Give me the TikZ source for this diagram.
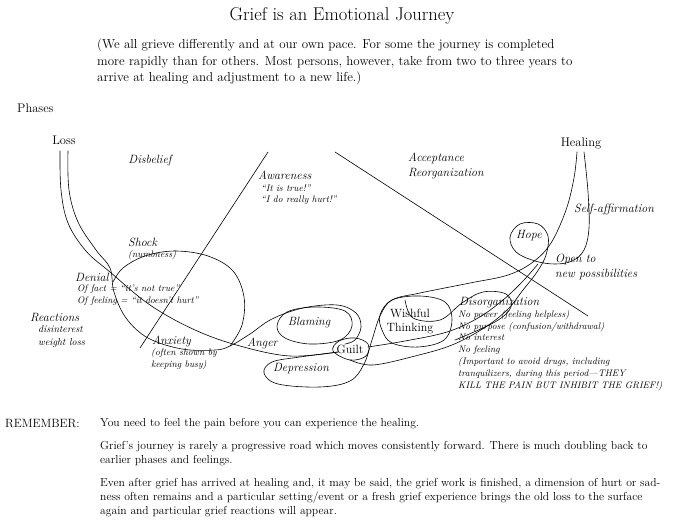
\documentclass[tikz,border=0pt]{standalone}
\usepackage{fontspec}
\begin{document}
\begin{tikzpicture}[x=1pt, y=-1pt,
    lbl/.style={font=\fontsize{12}{14}\selectfont\itshape, inner sep=0pt},
    note/.style={font=\fontsize{9.5}{11.8}\selectfont\itshape, inner sep=0pt, align=left},
    body/.style={font=\fontsize{11.6}{15}\selectfont, inner sep=0pt, align=left},
    spaced/.style={font=\fontsize{12.5}{14}\selectfont, inner sep=0pt},
    road/.style={line width=0.6pt, line join=round, line cap=round}]
  \useasboundingbox (0,0) rectangle (676,521);

  \node[font=\fontsize{18.5}{20}\selectfont] (title) at (342,16) {Grief is an Emotional Journey};
  \node[body, anchor=north west, font=\fontsize{13}{16.5}\selectfont] (intro) at (97,39)
    {(We all grieve differently and at our own pace. For some the journey is completed\\
     more rapidly than for others. Most persons, however, take from two to three years to\\
     arrive at healing and adjustment to a new life.)};
  \node[spaced, anchor=west] (phases) at (17,108) {\addfontfeature{LetterSpace=8}Phases};
  \node[spaced] (loss) at (64,140) {\addfontfeature{LetterSpace=8}Loss};
  \node[spaced] (healing) at (581,143) {\addfontfeature{LetterSpace=10}Healing};

  \node[lbl] (disbelief) at (150,161) {Disbelief};
  \node[lbl, anchor=west] (awareness) at (258,175) {Awareness};
  \node[note, anchor=north west] (aware) at (261,184) {``It is true!''\\``I do really hurt!''};
  \node[lbl, anchor=north west, align=left, font=\fontsize{12}{15}\selectfont\itshape] (accept) at (408,153) {Acceptance\\Reorganization};
  \node[lbl, anchor=west] (selfaff) at (574,209) {Self-affirmation};
  \node[lbl] (hope) at (529,236) {Hope};
  \node[lbl, anchor=north west, align=left, font=\fontsize{12}{14.5}\selectfont\itshape] (open) at (555,254) {Open to\\new possibilities};
  \node[lbl, anchor=west] (shock) at (128,242) {Shock};
  \node[note, anchor=west] (numb) at (128,255) {(numbness)};
  \node[lbl, anchor=west] (denial) at (75,277) {Denial};
  \node[note, anchor=north west] (denialnote) at (77,285) {Of fact = ``it's not true''\\Of feeling = ``it doesn't hurt''};
  \node[lbl, anchor=west] (reactions) at (30,318) {Reactions};
  \node[note, anchor=north west, font=\fontsize{10}{13}\selectfont\itshape] (react) at (38,325) {disinterest\\weight loss};
  \node[lbl, anchor=west] (anxiety) at (152,341) {Anxiety};
  \node[note, anchor=north west] (anx) at (151,348) {(often shown by\\keeping busy)};
  \node[lbl, anchor=west] (anger) at (247,343) {Anger};
  \node[lbl] (blaming) at (309,323) {Blaming};
  \node[font=\fontsize{12}{14}\selectfont] (guilt) at (350,349) {Guilt};
  \node[lbl] (depression) at (301,369) {Depression};
  \node[font=\fontsize{12}{14}\selectfont, align=center, inner sep=0pt] (wishful) at (410,322) {Wishful\\Thinking};
  \node[lbl, anchor=west] (disorg) at (459,303) {Disorganization};
  \node[note, anchor=north west] (disorglist) at (458,310)
    {No power (feeling helpless)\\No purpose (confusion/withdrawal)\\No interest\\No feeling\\
     (Important to avoid drugs, including\\tranquilizers, during this period---THEY\\
     KILL THE PAIN BUT INHIBIT THE GRIEF!)};

  \node[body, anchor=west, font=\fontsize{12}{15}\selectfont] (remember) at (5,424) {\addfontfeature{LetterSpace=15}REMEMBER:};
  \node[body, anchor=west] (pain) at (100,424) {You need to feel the pain before you can experience the healing.};
  \node[body, anchor=north west, font=\fontsize{11.6}{14.5}\selectfont] (journey) at (100,441)
    {Grief's journey is rarely a progressive road which moves consistently forward. There is much doubling back to\\
     earlier phases and feelings.};
  \node[body, anchor=north west, font=\fontsize{11.6}{14}\selectfont] (after) at (100,478)
    {Even after grief has arrived at healing and, it may be said, the grief work is finished, a dimension of hurt or sad-\\
     ness often remains and a particular setting/event or a fresh grief experience brings the old loss to the surface\\
     again and particular grief reactions will appear.};

  \coordinate (divA1) at (268,152);
  \coordinate (divA2) at (140,348);
  \coordinate (divB1) at (335,152);
  \coordinate (divB2) at (588,316);
  \draw[road] (divA1) -- (divA2);
  \draw[road] (divB1) -- (divB2);

  \draw[road] plot[smooth, tension=0.6] coordinates {(60,151) (61,190) (68,223) (86,251) (110,272) (150,305) (195,330) (240,346) (290,356) (338,352)};
  \draw[road] plot[smooth, tension=0.6] coordinates {(68,151) (69,190) (78,222) (96,250) (110,268) (114,292) (126,318) (148,338) (182,349) (215,350) (230,346) (250,334) (272,319) (303,308) (337,305) (356,313) (361,327) (355,340) (345,344)};
  \draw[road] plot[smooth, tension=0.6] coordinates {(230,346) (242,325) (244,297) (233,271) (208,256) (175,251) (145,256) (123,268) (113,282)};
  \draw[road] plot[smooth cycle, tension=0.6] coordinates {(277,326) (287,312) (315,307) (345,311) (352,326) (340,340) (310,344) (285,338)};
  \draw[road] plot[smooth cycle, tension=0.6] coordinates {(333,351) (339,341) (355,338) (368,344) (366,356) (350,360)};
  \draw[road] plot[smooth, tension=0.6] coordinates {(338,352) (300,357) (272,362) (264,373) (278,384) (320,387) (350,381) (364,364) (372,340) (380,316) (392,300) (420,293) (470,283) (508,275) (533,262) (551,243) (566,210) (574,178) (577,152)};
  \draw[road] plot[smooth cycle, tension=0.6] coordinates {(380,315) (392,300) (420,296) (445,302) (452,320) (444,340) (418,347) (392,343) (382,330)};
  \draw[road] plot[smooth, tension=0.6] coordinates {(368,347) (405,341) (447,332) (478,318) (503,300) (523,281) (538,264)};
  \draw[road] plot[smooth, tension=0.6] coordinates {(350,360) (373,365) (415,356) (452,345) (484,328) (507,310) (523,290) (537,272) (546,255) (548,236) (538,224) (520,224) (510,237) (516,252) (535,261) (555,264) (572,261) (584,250) (589,228) (588,192) (584,152)};
  \draw[road] plot[smooth, tension=0.6] coordinates {(405,300) (413,318) (440,320) (462,303) (483,292) (506,294) (511,307) (495,322) (455,340)};
\end{tikzpicture}
\end{document}
